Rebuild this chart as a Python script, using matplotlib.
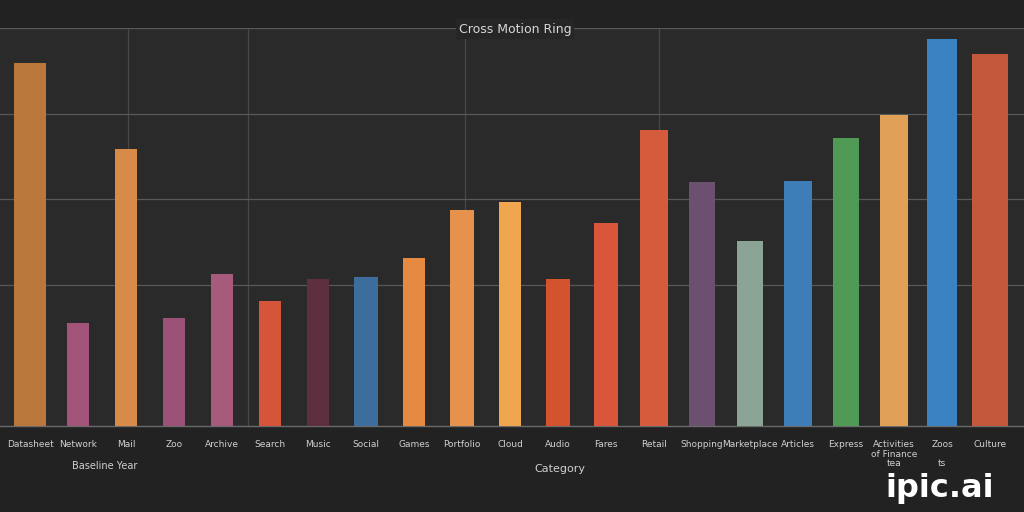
import matplotlib
matplotlib.use("Agg")
import matplotlib.pyplot as plt

# ---- data ----
categories = ["Datasheet", "Network", "Mail", "Zoo", "Archive", "Search", "Music",
              "Social", "Games", "Portfolio", "Cloud", "Audio", "Fares",
              "Retail", "Shopping", "Marketplace", "Articles", "Express",
              "Activities\nof Finance\ntea", "Zoos\n\nts", "Culture"]
values = [91.2, 25.9, 69.5, 27.2, 38.3, 31.5, 37.0, 37.5, 42.3, 54.2, 56.2,
          37.0, 50.9, 74.3, 61.2, 46.6, 61.5, 72.3, 78.1, 97.2, 93.5]
bar_colors = ["#b9773c", "#a35579", "#d88a48", "#9c5276", "#a65a7c", "#d4553a",
              "#5e2f3e", "#3c6d9c", "#e58a40", "#e5934c", "#f0a64e", "#d4532f",
              "#d9563a", "#d65a3c", "#6b5070", "#8aa595", "#3d7eb8", "#4f9a55",
              "#e0a055", "#3a82c2", "#c4583a"]
bar_widths = [0.68, 0.46, 0.46, 0.47, 0.45, 0.45, 0.45, 0.52, 0.45, 0.5, 0.46,
              0.52, 0.5, 0.6, 0.54, 0.56, 0.57, 0.56, 0.6, 0.62, 0.73]
title = "Cross Motion Ring"
xlabel_main = "Category"
xlabel_left = "Baseline Year"

fig = plt.figure(figsize=(10.24, 5.12), dpi=100)
fig.patch.set_facecolor("#222222")
ax = fig.add_axes([0.0, 86 / 512, 1.0, 398 / 512])
ax.set_facecolor("#2a2a2a")

x = list(range(len(values)))
ax.bar(x, values, width=bar_widths, color=bar_colors, zorder=3)

ax.set_xlim(-0.625, 20.708)
ax.set_ylim(0, 100)

# grid
ax.set_yticks([35.5, 57, 78.5, 100])
ax.set_yticklabels([])
ax.tick_params(axis="y", length=0)
ax.set_xticks([2.04, 4.54, 9.06, 13.1], minor=True)
ax.grid(True, which="major", axis="y", color="#585858", linewidth=0.9, zorder=1)
ax.grid(True, which="minor", axis="x", color="#484848", linewidth=0.9, zorder=1)
ax.tick_params(axis="x", which="minor", length=0)

ax.set_xticks(x)
ax.set_xticklabels(categories, fontsize=6.5, color="#d0d0d0", linespacing=1.1,
                   verticalalignment="top")
ax.tick_params(axis="x", which="major", length=0, pad=10)

for s in ["top", "left", "right"]:
    ax.spines[s].set_visible(False)
ax.spines["bottom"].set_color("#6a6a6a")
ax.spines["bottom"].set_linewidth(1.0)

# title sitting on top gridline
fig.text(515 / 1024, 1 - 29 / 512, title, ha="center", va="center",
         fontsize=9, color="#d8d8d8",
         bbox=dict(boxstyle="square,pad=0.25", fc="#262626", ec="none"))

fig.text(560 / 1024, 1 - 469 / 512, xlabel_main, ha="center", va="center",
         fontsize=8, color="#d0d0d0")
fig.text(105 / 1024, 1 - 466 / 512, xlabel_left, ha="center", va="center",
         fontsize=7, color="#d0d0d0")

# watermark
fig.text(940 / 1024, 1 - 488 / 512, "ipic.ai", ha="center", va="center",
         fontsize=23, fontweight="bold", color="white")

fig.savefig("out.png", dpi=100, facecolor=fig.get_facecolor())
